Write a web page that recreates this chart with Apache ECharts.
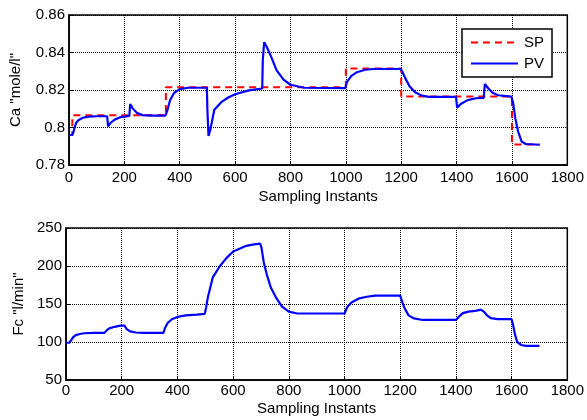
<!DOCTYPE html>
<html>
<head>
<meta charset="utf-8">
<script src="https://cdn.jsdelivr.net/npm/echarts@6/dist/echarts.min.js"></script>
<style>
html,body{margin:0;padding:0;background:#fff;}
#chart{width:587px;height:420px;}
</style>
</head>
<body>
<div id="chart"></div>
<script>
// ---- data ----
var caSP = [[0,0.796],[12,0.796],[12,0.8065],[350,0.8065],[350,0.8215],[1000,0.8215],[1000,0.8315],
  [1200,0.8315],[1200,0.8165],[1600,0.8165],[1600,0.791],[1700,0.791]];

var caPV = [[0,0.796],[12,0.796],[16,0.7975],[20,0.800],[26,0.8025],[35,0.804],[50,0.8052],[70,0.8058],
  [100,0.806],[138,0.806],[141,0.8006],[150,0.8025],[165,0.8042],[185,0.8055],[218,0.8062],
  [221,0.8125],[230,0.8102],[245,0.8078],[265,0.8066],[300,0.8063],[348,0.8063],[355,0.809],
  [365,0.8145],[380,0.8185],[400,0.8205],[430,0.8212],[498,0.8212],[500,0.809],[504,0.7955],
  [510,0.7985],[525,0.8095],[550,0.8135],[575,0.816],[600,0.8177],[650,0.8198],[698,0.8208],
  [700,0.836],[705,0.8455],[715,0.8428],[730,0.8378],[750,0.8305],[775,0.8255],[800,0.8228],
  [850,0.8212],[998,0.821],[1005,0.8245],[1020,0.8275],[1040,0.8295],[1070,0.8308],[1100,0.8312],
  [1198,0.8312],[1205,0.8295],[1215,0.8262],[1230,0.822],[1250,0.8188],[1275,0.8170],[1300,0.8163],
  [1398,0.8163],[1402,0.8106],[1415,0.8125],[1440,0.8146],[1470,0.8156],[1498,0.8158],[1502,0.8232],
  [1515,0.8208],[1530,0.8185],[1550,0.8172],[1598,0.8165],[1605,0.8125],[1612,0.805],[1622,0.798],
  [1635,0.7925],[1650,0.7912],[1700,0.7908]];

var fcPV = [[0,99],[12,99],[18,102],[25,106],[35,109],[50,110.5],[65,111.5],[100,112],[138,112],
  [145,115],[155,118],[175,120],[195,121.5],[210,121.5],[218,117],[230,114],[250,112.5],[280,112],
  [350,112],[355,118],[365,125],[380,130],[400,133],[430,135],[470,136],[498,137],[503,145],
  [510,160],[527,185],[551,199],[575,210],[600,219],[625,223],[647,226.5],[675,228.5],[697,229.5],
  [702,224],[710,205],[720,190],[735,172],[755,158],[775,147],[800,140],[830,137.5],[1000,137.5],
  [1010,146],[1025,152],[1050,157],[1080,159.5],[1110,161],[1200,161],[1205,155],[1215,145],
  [1230,135],[1250,131],[1280,129],[1400,129],[1410,133],[1425,138],[1445,140],[1470,141],
  [1490,142.5],[1500,140],[1512,135],[1525,131.5],[1550,130],[1600,130],[1605,123],[1612,110],
  [1620,100],[1635,96],[1650,95],[1700,95]];

var xName = 'Sampling Instants';
var caName = 'Ca "mole/l"';
var fcName = 'Fc "l/min"';

// ---- chart ----
var FONT = 'Liberation Sans, Arial, sans-serif';
var txt = {color:'#000', fontFamily:FONT, fontSize:15};
function xAx(gi, gap, margin){
  return {type:'value', gridIndex:gi, min:0, max:1800, interval:200,
    name:xName, nameLocation:'middle', nameGap:gap, nameTextStyle:txt,
    axisLine:{show:true, onZero:false, lineStyle:{color:'#000', width:1.5}},
    axisTick:{show:true, inside:true, length:4, lineStyle:{color:'#000'}},
    axisLabel:Object.assign({margin:margin, formatter:function(v){ return String(v); }}, txt),
    splitLine:{show:true, lineStyle:{color:'#000', type:'dotted', width:1}}};
}
function yAx(gi, min, max, interval, name, gap, fmt){
  return {type:'value', gridIndex:gi, min:min, max:max, interval:interval,
    name:name, nameLocation:'middle', nameGap:gap, nameTextStyle:txt,
    axisLine:{show:true, lineStyle:{color:'#000', width:1.5}},
    axisTick:{show:true, inside:true, length:4, lineStyle:{color:'#000'}},
    axisLabel:Object.assign({margin:4, formatter:fmt}, txt),
    splitLine:{show:true, lineStyle:{color:'#000', type:'dotted', width:1}}};
}
var chart = echarts.init(document.getElementById('chart'), null, {renderer:'canvas'});
chart.setOption({
  animation:false,
  backgroundColor:'#fff',
  grid:[
    {left:66, top:15, width:506, height:150, show:true, borderColor:'#000', borderWidth:1.5, backgroundColor:'transparent'},
    {left:66, top:228, width:506, height:152, show:true, borderColor:'#000', borderWidth:1.5, backgroundColor:'transparent'}
  ],
  xAxis:[xAx(0, 24, 5), xAx(1, 21, 3)],
  yAxis:[
    yAx(0, 0.78, 0.86, 0.02, caName, 46, function(v){ return (Math.round(v*100)/100).toString(); }),
    yAx(1, 50, 250, 50, fcName, 38, function(v){ return String(v); })
  ],
  legend:{
    data:['SP','PV'], orient:'vertical', left:462, top:29,
    itemWidth:47, itemHeight:14, itemGap:6,
    padding:[6,8,6,8],
    borderColor:'#000', borderWidth:1.5, backgroundColor:'#fff',
    itemStyle:{opacity:0},
    textStyle:{color:'#000', fontFamily:FONT, fontSize:15, padding:[0,0,0,1]}
  },
  series:[
    {name:'SP', type:'line', xAxisIndex:0, yAxisIndex:0, data:caSP, symbol:'none',
     lineStyle:{color:'#ff0000', width:2, type:[7,5]}, itemStyle:{color:'#ff0000'}, z:2},
    {name:'PV', type:'line', xAxisIndex:0, yAxisIndex:0, data:caPV, symbol:'none',
     lineStyle:{color:'#0000ff', width:2.2}, itemStyle:{color:'#0000ff'}, z:3},
    {name:'Fc', type:'line', xAxisIndex:1, yAxisIndex:1, data:fcPV, symbol:'none',
     lineStyle:{color:'#0000ff', width:2.2}, itemStyle:{color:'#0000ff'}, z:3}
  ]
});
</script>
</body>
</html>
